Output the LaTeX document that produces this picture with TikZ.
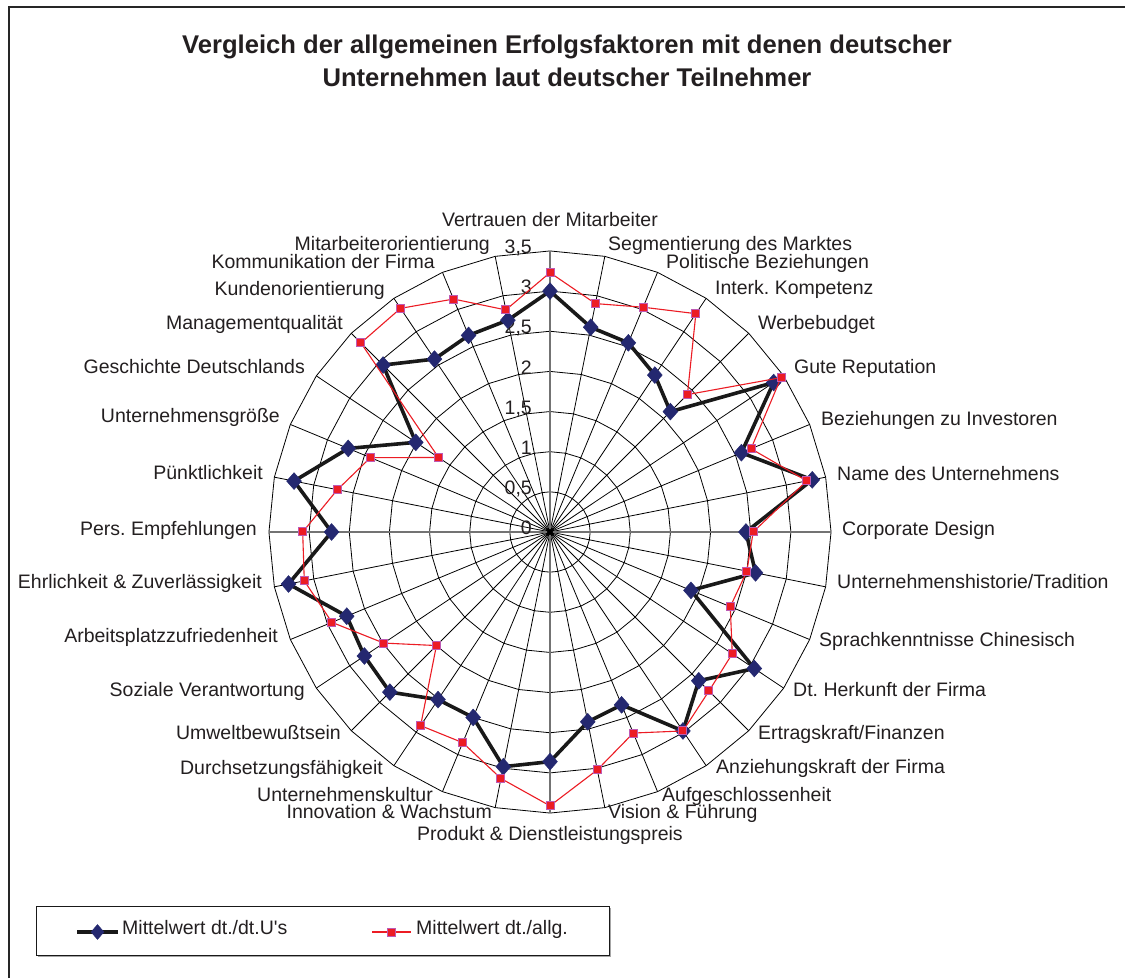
\documentclass[tikz,border=0pt]{standalone}
\usepackage{fontspec}
\setmainfont{Liberation Sans}
\newfontfamily\plainsans{Liberation Sans}[Ligatures=TeXOff]
\usetikzlibrary{shapes.geometric}
\frenchspacing

\definecolor{navy}{RGB}{36,40,112}
\definecolor{sqred}{RGB}{236,28,36}
\definecolor{sqedge}{RGB}{190,90,180}
\definecolor{ink}{RGB}{35,31,32}

\begin{document}
\begin{tikzpicture}[x=1pt,y=1pt,
  lbl/.style={font=\fontsize{19.5}{22}\selectfont, inner sep=0pt, text=ink},
  ttl/.style={font=\bfseries\fontsize{25.6}{30}\selectfont, inner sep=0pt, text=ink},
  ring/.style={draw=black, line width=0.8},
  spoke/.style={draw=black, line width=0.8},
  mainaxis/.style={draw=black!55, line width=1.3},
  seriesA/.style={draw=black!90, line width=3.6, line join=miter},
  seriesB/.style={draw=sqred, line width=1.1},
  diam/.style={diamond, fill=navy, draw=navy, line width=0.5, inner sep=0pt, minimum width=15, minimum height=17},
  sq/.style={rectangle, fill=sqred, draw=sqedge, line width=1, inner sep=0pt, minimum size=8}
]
\useasboundingbox (0,0) rectangle (1125,978);
\fill[white] (0,0) rectangle (1125,978);

% frame (left and top edges)
\draw[line width=1.4, black!85] (9,0) -- (9,971) -- (1125,971);

% title
\node[ttl] (title1) at (567,931) {Vergleich der allgemeinen Erfolgsfaktoren mit denen deutscher};
\node[ttl] (title2) at (567,901) {Unternehmen laut deutscher Teilnehmer};

\begin{scope}[shift={(550,446)}]
  % grid rings
  \foreach \v in {0.5,1,...,3.5}
    \draw[ring] (90:\v*80.3) \foreach \k in {1,...,31} { -- ({90-11.25*\k}:\v*80.3) } -- cycle;
  % spokes
  \foreach \k in {0,...,31}
    \draw[spoke] (0,0) -- ({90-11.25*\k}:281);
  \foreach \k in {0,8,16,24}
    \draw[mainaxis] (0,0) -- ({90-11.25*\k}:281);
  \fill[black] (0,0) circle (3);

  % value axis labels
  \foreach \v/\t in {0/0,0.5/{0,5},1/1,1.5/{1,5},2/2,2.5/{2,5},3/3,3.5/{3,5}}
    \node[lbl, anchor=mid east] at (-18,\v*80.3) {\t};

  % series 1: Mittelwert dt./dt.U's
  \foreach \v [count=\k from 0] in {3.0,2.6,2.55,2.35,2.12,3.35,2.58,3.33,2.44,2.61,1.9,3.06,2.62,2.98,2.33,2.41,2.86,2.98,2.5,2.51,2.82,2.78,2.74,3.32,2.72,3.25,2.72,2.01,2.94,2.59,2.65,2.69}
    \coordinate (b\k) at ({90-11.25*\k}:\v*80.3);
  % series 2: Mittelwert dt./allg.
  \foreach \v [count=\k from 0] in {3.23,2.9,3.03,3.27,2.42,3.46,2.71,3.26,2.53,2.5,2.43,2.73,2.8,2.98,2.71,3.02,3.41,3.13,2.84,2.9,2.0,2.49,2.94,3.12,3.08,2.7,2.42,1.67,3.33,3.35,3.14,2.82}
    \coordinate (r\k) at ({90-11.25*\k}:\v*80.3);

  \draw[seriesA] (b0) \foreach \k in {1,...,31} { -- (b\k) } -- cycle;
  \foreach \k in {0,...,31} \node[diam] (bm\k) at (b\k) {};
  \draw[seriesB] (r0) \foreach \k in {1,...,31} { -- (r\k) } -- cycle;
  \foreach \k in {0,...,31} \node[sq] (rm\k) at (r\k) {};
\end{scope}

% category labels
\node[lbl, anchor=mid] (c0) at (550,754) {Vertrauen der Mitarbeiter};
\node[lbl, anchor=mid west] (c1) at (608,730) {Segmentierung des Marktes};
\node[lbl, anchor=mid west] (c2) at (666,712) {Politische Beziehungen};
\node[lbl, anchor=mid west] (c3) at (715,686) {Interk. Kompetenz};
\node[lbl, anchor=mid west] (c4) at (758,651) {Werbebudget};
\node[lbl, anchor=mid west] (c5) at (794,607) {Gute Reputation};
\node[lbl, anchor=mid west] (c6) at (821,555) {Beziehungen zu Investoren};
\node[lbl, anchor=mid west] (c7) at (837,500) {Name des Unternehmens};
\node[lbl, anchor=mid west] (c8) at (842,445) {Corporate Design};
\node[lbl, anchor=mid west] (c9) at (837,392) {Unternehmenshistorie/Tradition};
\node[lbl, anchor=mid west] (c10) at (819,334) {Sprachkenntnisse Chinesisch};
\node[lbl, anchor=mid west] (c11) at (793,284) {Dt. Herkunft der Firma};
\node[lbl, anchor=mid west] (c12) at (758,241) {Ertragskraft/Finanzen};
\node[lbl, anchor=mid west] (c13) at (716,207) {Anziehungskraft der Firma};
\node[lbl, anchor=mid west] (c14) at (662,179) {Aufgeschlossenheit};
\node[lbl, anchor=mid west] (c15) at (608,162) {Vision \& Führung};
\node[lbl, anchor=mid] (c16) at (550,140) {Produkt \& Dienstleistungspreis};
\node[lbl, anchor=mid east] (c17) at (492,162) {Innovation \& Wachstum};
\node[lbl, anchor=mid east] (c18) at (433,179) {Unternehmenskultur};
\node[lbl, anchor=mid east] (c19) at (383,206) {Durchsetzungsfähigkeit};
\node[lbl, anchor=mid east] (c20) at (341,241) {Umweltbewußtsein};
\node[lbl, anchor=mid east] (c21) at (305,284) {Soziale Verantwortung};
\node[lbl, anchor=mid east] (c22) at (278,338) {Arbeitsplatzzufriedenheit};
\node[lbl, anchor=mid east] (c23) at (262,392) {Ehrlichkeit \& Zuverlässigkeit};
\node[lbl, anchor=mid east] (c24) at (257,445) {Pers. Empfehlungen};
\node[lbl, anchor=mid east] (c25) at (263,501) {Pünktlichkeit};
\node[lbl, anchor=mid east] (c26) at (280,558) {Unternehmensgröße};
\node[lbl, anchor=mid east] (c27) at (305,607) {Geschichte Deutschlands};
\node[lbl, anchor=mid east] (c28) at (343,651) {Managementqualität};
\node[lbl, anchor=mid east] (c29) at (385,685) {Kundenorientierung};
\node[lbl, anchor=mid east] (c30) at (435,712) {Kommunikation der Firma};
\node[lbl, anchor=mid east] (c31) at (490,730) {Mitarbeiterorientierung};

% legend
\fill[black!35] (38,21) rectangle (611,70);
\draw[draw=black!90, fill=white, line width=0.9] (36,23) rectangle (609,72);
\coordinate (la1) at (77,46);
\coordinate (la2) at (118,46);
\draw[seriesA] (la1) -- (la2);
\node[diam, minimum width=13, minimum height=15] (lm1) at (97.5,46) {};
\node[lbl, anchor=mid west, font=\plainsans\fontsize{19.5}{22}\selectfont] (lt1) at (122,46) {Mittelwert dt./dt.U's};
\coordinate (lb1) at (372,46);
\coordinate (lb2) at (411,46);
\draw[seriesB] (lb1) -- (lb2);
\node[sq] (lm2) at (391.5,46) {};
\node[lbl, anchor=mid west] (lt2) at (416,46) {Mittelwert dt./allg.};
\end{tikzpicture}
\end{document}
